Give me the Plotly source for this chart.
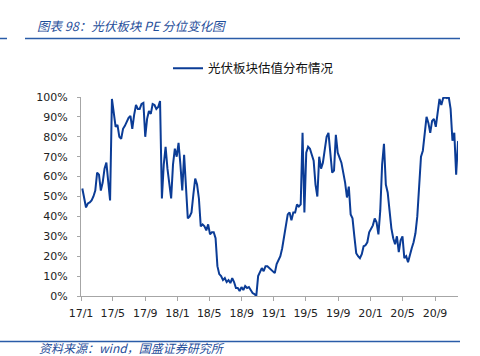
import plotly.graph_objects as go
import pandas as pd

# ---- data (weekly PE percentile of PV sector) ----
start_date = "2017-01-06"
values = [
    54, 50, 44.5, 46.5, 47, 48, 50, 53, 62, 61, 53, 57, 64, 67, 59, 48, 99, 92, 85, 86,
    80, 79, 84, 85.5, 87.5, 89.5, 90.5, 84, 91, 96, 94, 94, 96.5, 97, 80, 89, 93, 91.5, 96.5, 96,
    94, 95, 98,
    49, 66, 75, 64, 55, 49, 66, 74, 70, 77, 66, 53, 71, 57, 39, 40, 42, 51, 59, 56, 49,
    35, 36, 35, 33, 36, 31, 32, 32, 29, 15, 11, 10, 8, 9, 7, 8, 6.5, 9, 7, 4, 4,
    2.5, 4.5, 3, 5, 4, 4.5, 3, 1.5, 1, 0, 10, 12, 14, 12.5, 15, 15, 14, 13, 12.5, 11.5,
    16, 18, 20, 24, 30, 34, 41, 42, 38, 42, 42, 46, 45, 46, 82, 42, 72, 75, 74, 71, 68, 56,
    50, 70, 64, 67, 73, 80, 82, 73, 62, 63, 81, 72, 69, 67, 62, 57, 49.5, 55, 41, 39,
    30, 21.5, 20, 19, 21, 25, 25.5, 27, 32, 34, 35.5, 39, 37, 31, 43, 66, 76.5, 56, 52, 43,
    34, 29,
    26, 30, 22, 28, 30, 19, 20, 17, 21, 24, 27, 31.5, 40, 57, 70, 73, 82, 90, 87, 82,
    88, 89, 85, 92, 99, 96, 99.5, 100, 99.5, 100, 94, 78, 82, 61, 77.5, 78,
]
dates = pd.date_range(start_date, periods=len(values), freq="7D")

tick_dates = ["2017-01-01", "2017-05-01", "2017-09-01", "2018-01-01", "2018-05-01",
              "2018-09-01", "2019-01-01", "2019-05-01", "2019-09-01", "2020-01-01",
              "2020-05-01", "2020-09-01"]
tick_labels = ["17/1", "17/5", "17/9", "18/1", "18/5", "18/9",
               "19/1", "19/5", "19/9", "20/1", "20/5", "20/9"]
y_ticks = [0, 10, 20, 30, 40, 50, 60, 70, 80, 90, 100]
y_labels = [f"{v}%" for v in y_ticks]

series_name = "光伏板块估值分布情况"
title_text = "图表 98：光伏板块 PE 分位变化图"
source_text = "资料来源：wind，国盛证券研究所"

# ---- layout geometry (pixels) ----
W, H = 480, 356
L, R, T, B = 81, 458, 97, 296


def px(x):
    return (x - L) / (R - L)


def py(y):
    return (B - y) / (B - T)


BLUE = "#1F4E9A"
LINE = "#0B3C96"
AX = "#A6A6A6"
CJK = "Noto Sans CJK SC"

fig = go.Figure()
fig.add_trace(go.Scatter(x=dates, y=values, mode="lines", name=series_name,
                         line=dict(color=LINE, width=2)))

fig.update_layout(
    width=W, height=H,
    margin=dict(l=L, r=W - R, t=T, b=H - B, pad=0, autoexpand=False),
    paper_bgcolor="white", plot_bgcolor="white",
    showlegend=True,
    legend=dict(x=px(168), y=py(68.5), xanchor="left", yanchor="middle",
                orientation="h", bgcolor="rgba(0,0,0,0)",
                font=dict(family=CJK, size=12.5, color="#111")),
    xaxis=dict(type="date", range=["2017-01-01", "2020-11-27"],
               tickmode="array", tickvals=tick_dates, ticktext=tick_labels,
               ticks="outside", ticklen=4, tickcolor=AX, showline=True,
               linecolor=AX, linewidth=1, showgrid=False, zeroline=False,
               ticklabelstandoff=3,
               tickfont=dict(family="DejaVu Sans", size=11, color="#222")),
    yaxis=dict(range=[0, 100], tickmode="array", tickvals=y_ticks, ticktext=y_labels,
               ticks="outside", ticklen=3, tickcolor=AX, showline=True,
               linecolor=AX, linewidth=1, showgrid=False, zeroline=False,
               ticklabelstandoff=7,
               tickfont=dict(family="DejaVu Sans", size=11, color="#222")),
)

shapes = [
    dict(x0=px(25), x1=px(460), y0=py(38.5), y1=py(38.5)),
    dict(x0=px(0), x1=px(7), y0=py(38.5), y1=py(38.5)),
    dict(x0=px(0), x1=px(460), y0=py(341.5), y1=py(341.5)),
]
for s in shapes:
    fig.add_shape(type="line", xref="paper", yref="paper",
                  line=dict(color="#2A5CA8", width=1.5), **s)

fig.add_annotation(text=title_text, xref="paper", yref="paper", x=px(35), y=py(25),
                   xanchor="left", yanchor="middle", showarrow=False,
                   font=dict(family=CJK, size=12.5, color=BLUE, style="italic"))
fig.add_annotation(text=source_text, xref="paper", yref="paper", x=px(37), y=py(347.5),
                   xanchor="left", yanchor="middle", showarrow=False,
                   font=dict(family=CJK, size=12, color=BLUE, style="italic"))

fig.write_html("out.html", config={"displayModeBar": False},
               post_script="document.body.style.margin='0px';document.body.style.overflow='hidden';")
